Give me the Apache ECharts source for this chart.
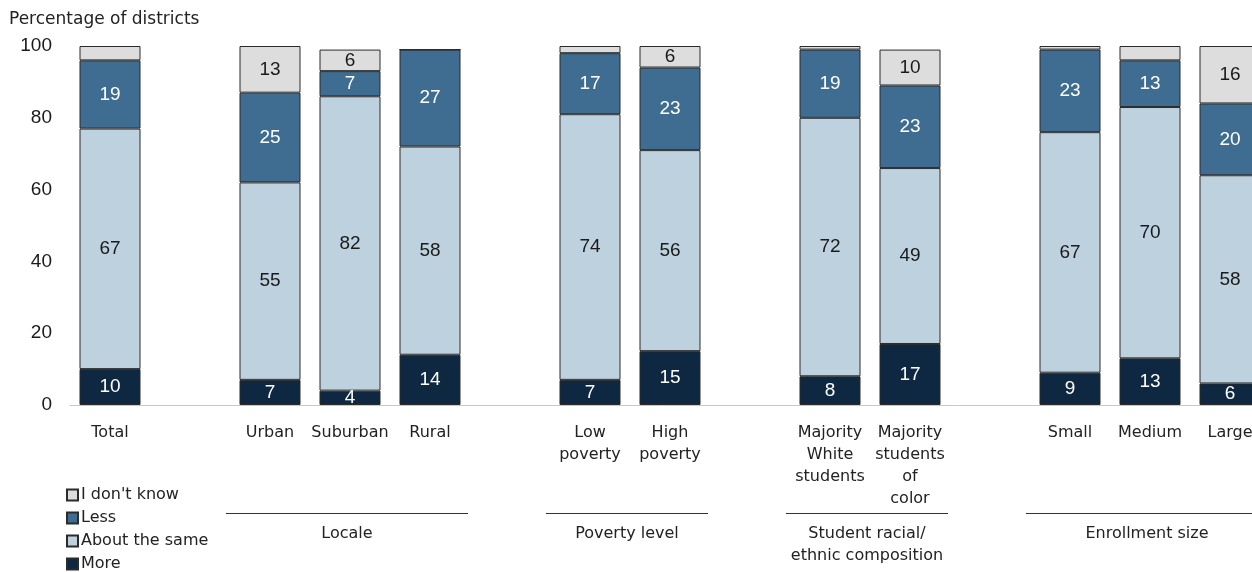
<!DOCTYPE html>
<html>
<head>
<meta charset="utf-8">
<script src="https://cdn.jsdelivr.net/npm/echarts@6/dist/echarts.min.js"></script>
<style>
  html, body { margin: 0; padding: 0; background: #fff; }
  #chart { width: 1252px; height: 572px; }
</style>
</head>
<body>
<div id="chart"></div>
<script>
// Categories along the x axis; empty strings are spacer slots between groups.
const categories = ['Total', '', 'Urban', 'Suburban', 'Rural', '', 'Low\npoverty', 'High\npoverty', '',
  'Majority\nWhite\nstudents', 'Majority\nstudents\nof\ncolor', '', 'Small', 'Medium', 'Large'];

// Share of districts (%) per response, stacked bottom to top.
const moreValues     = [10, null, 7, 4, 14, null, 7, 15, null, 8, 17, null, 9, 13, 6];
const sameValues     = [67, null, 55, 82, 58, null, 74, 56, null, 72, 49, null, 67, 70, 58];
const lessValues     = [19, null, 25, 7, 27, null, 17, 23, null, 19, 23, null, 23, 13, 20];
const dontKnowValues = [4, null, 13, 6, 0, null, 2, 6, null, 1, 10, null, 1, 4, 16];

const yTicks = [0, 20, 40, 60, 80, 100];

// Group headings drawn under the category labels (first and last category index).
const groupNames = ['Locale', 'Poverty level', 'Student racial/\nethnic composition', 'Enrollment size'];
const groupStart = [2, 6, 9, 12];
const groupEnd   = [4, 7, 10, 14];

const FONT = '"DejaVu Sans", Verdana, sans-serif';
const NUM_FONT = '"Liberation Sans", Arial, sans-serif';
const TEXT = '#222';

function makeSeries(name, data, color, labelColor, minLabel) {
  return {
    name: name,
    type: 'bar',
    stack: 'all',
    data: data,
    barWidth: 61,
    itemStyle: { color: color, borderColor: '#2b2b2b', borderWidth: 1 },
    label: {
      show: true,
      position: 'inside',
      color: labelColor,
      fontFamily: NUM_FONT,
      fontSize: 19,
      formatter: p => (p.value != null && p.value >= minLabel) ? String(p.value) : ''
    },
    emphasis: { disabled: true }
  };
}

const chart = echarts.init(document.getElementById('chart'), null, { renderer: 'canvas' });

chart.setOption({
  animation: false,
  backgroundColor: '#fff',
  textStyle: { fontFamily: FONT },
  title: {
    text: 'Percentage of districts',
    left: 9, top: 11, padding: 0,
    textStyle: { fontFamily: FONT, fontSize: 17, fontWeight: 'normal', color: TEXT }
  },
  grid: { left: 70, top: 46, width: 1200, height: 359, containLabel: false, outerBoundsMode: 'none' },
  legend: {
    orient: 'vertical',
    left: 66, top: 486, padding: 0,
    width: 200, height: 100,
    icon: 'rect',
    itemWidth: 11, itemHeight: 11, itemGap: 5,
    data: ["I don't know", 'Less', 'About the same', 'More'],
    textStyle: { fontFamily: FONT, fontSize: 16, color: TEXT, padding: [0, 0, 0, -2], lineHeight: 18 },
    selectedMode: false
  },
  xAxis: {
    type: 'category',
    data: categories,
    axisLine: { show: true, lineStyle: { color: '#c8c8c8', width: 1 } },
    axisTick: { show: false },
    axisLabel: {
      interval: 0, margin: 17,
      fontFamily: FONT, fontSize: 16, color: TEXT, lineHeight: 22
    }
  },
  yAxis: {
    type: 'value',
    min: yTicks[0], max: yTicks[yTicks.length - 1], interval: yTicks[1] - yTicks[0],
    splitLine: { show: false },
    axisLine: { show: false },
    axisTick: { show: false },
    axisLabel: { fontFamily: NUM_FONT, fontSize: 19, color: '#1a1a1a', margin: 18 }
  },
  series: [
    makeSeries('More', moreValues, '#0d2840', '#fff', 0),
    makeSeries('About the same', sameValues, '#bdd1df', '#1a1a1a', 0),
    makeSeries('Less', lessValues, '#3e6d91', '#fff', 0),
    makeSeries("I don't know", dontKnowValues, '#dddddd', '#1a1a1a', 5)
  ]
});

// Group rules and headings, placed from the category axis positions.
function drawGroups() {
  const c0 = chart.convertToPixel({ xAxisIndex: 0 }, 0);
  const c1 = chart.convertToPixel({ xAxisIndex: 0 }, 1);
  const half = (c1 - c0) / 2;
  const baseY = chart.convertToPixel({ yAxisIndex: 0 }, 0);
  const ruleY = Math.round(baseY + 108) + 0.5;
  const elements = [];
  groupNames.forEach((name, i) => {
    const x0 = chart.convertToPixel({ xAxisIndex: 0 }, groupStart[i]) - half - 4;
    const x1 = chart.convertToPixel({ xAxisIndex: 0 }, groupEnd[i]) + half - 2;
    elements.push({
      type: 'line',
      shape: { x1: x0, y1: ruleY, x2: x1, y2: ruleY },
      style: { stroke: '#333', lineWidth: 1 },
      silent: true
    });
    elements.push({
      type: 'text',
      x: (x0 + x1) / 2,
      y: ruleY + 9,
      style: {
        text: name,
        fontFamily: FONT, fontSize: 16, fill: TEXT,
        align: 'center', verticalAlign: 'top', lineHeight: 22
      },
      silent: true
    });
  });
  chart.setOption({ graphic: { elements: elements } });
}
drawGroups();
</script>
</body>
</html>
